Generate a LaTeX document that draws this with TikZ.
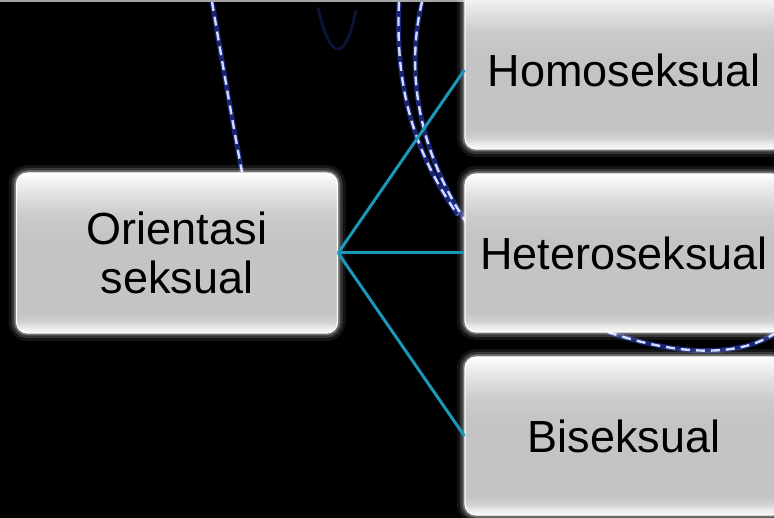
\documentclass[tikz,border=0pt]{standalone}
\usepackage{fontspec}
\setmainfont{Liberation Sans}
% path spans 25bp (bottom edge) to 75bp (top edge)
\pgfdeclareverticalshading{btnshade}{100bp}{%
  color(0bp)=(white);
  color(25bp)=(white!97!black);
  color(26.5bp)=(white!93!black);
  color(28.5bp)=(white!82!black);
  color(31bp)=(white!77!black);
  color(55bp)=(white!77!black);
  color(62bp)=(white!80!black);
  color(68bp)=(white!88!black);
  color(72.5bp)=(white!95!black);
  color(75bp)=(white);
  color(100bp)=(white)}
\definecolor{linkteal}{HTML}{1B97B8}
\definecolor{dashlight}{HTML}{D0DAFF}
\definecolor{dashglow}{HTML}{2A3FC0}
\tikzset{
  btnbox/.style={rounded corners=11pt, shading=btnshade, draw=white, line width=1.2pt,
    preaction={draw=white, draw opacity=0.08, line width=16pt},
    preaction={draw=white, draw opacity=0.15, line width=10pt},
    preaction={draw=white, draw opacity=0.30, line width=5pt},
    font=\fontsize{45}{49}\selectfont, text=black, align=center, inner sep=0pt},
  leftbox/.style={btnbox, minimum width=321pt, minimum height=160pt},
  rightbox/.style={btnbox, minimum width=318pt, minimum height=158pt},
  linkline/.style={linkteal, line width=3pt},
  dashcurve/.style={dashlight, line width=2.4pt, dash pattern=on 9pt off 6pt,
    preaction={draw=dashglow, draw opacity=0.6, line width=5pt, solid}},
  faintcurve/.style={draw=dashglow, draw opacity=0.3, line width=3pt}
}
\begin{document}
\begin{tikzpicture}[x=1pt,y=-1pt]
\useasboundingbox (0,0) rectangle (774,518);
\fill[black] (0,0) rectangle (774,518);
% background light trails
\draw[faintcurve] (318,8) .. controls (330,60) and (345,65) .. (356,10);
\draw[dashcurve] (212,2) .. controls (222,60) and (232,120) .. (242,172);
\draw[dashcurve] (399,2) .. controls (396,70) and (405,140) .. (458,215);
\draw[dashcurve] (422,2) .. controls (408,60) and (412,140) .. (466,222);
\draw[dashcurve] (608,332) .. controls (660,350) and (730,362) .. (774,334);
\draw[gray!70, line width=2pt] (0,1.2) -- (774,1.2);
% nodes
\node[leftbox] (orient) at (177,253) {Orientasi\\seksual};
\node[rightbox] (homo) at (624,70) {Homoseksual};
\node[rightbox] (hetero) at (624,253) {Heteroseksual};
\node[rightbox] (bi) at (624,436) {Biseksual};
% connectors
\draw[linkline] (orient.east) -- (homo.west);
\draw[linkline] (orient.east) -- (hetero.west);
\draw[linkline] (orient.east) -- (bi.west);
\end{tikzpicture}
\end{document}
